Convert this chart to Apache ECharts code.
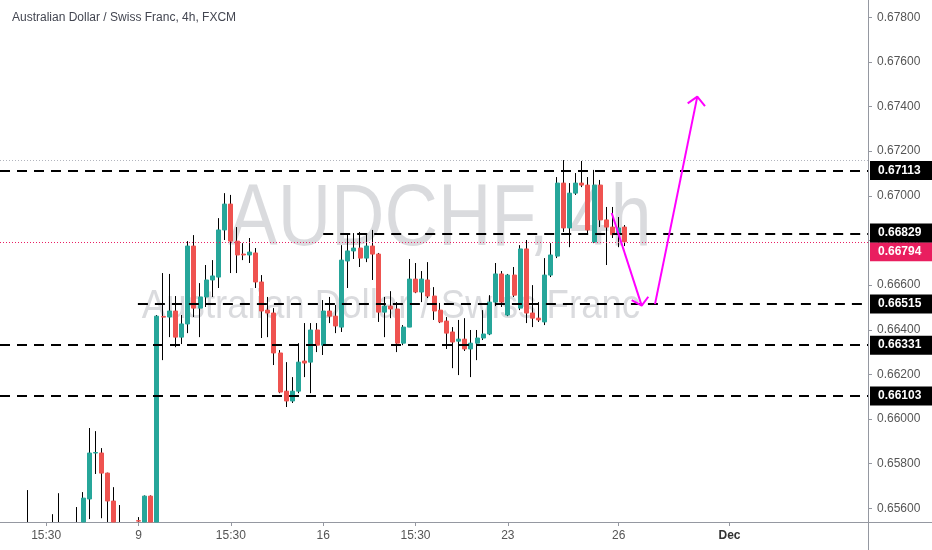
<!DOCTYPE html>
<html><head><meta charset="utf-8">
<script src="https://cdn.jsdelivr.net/npm/echarts@6/dist/echarts.min.js"></script>
<style>html,body{margin:0;padding:0;background:#fff}#c{width:932px;height:550px}</style>
</head><body><div id="c"></div>
<script>
// ---- data ----
const N = 141; // number of 4h slots on the category axis
const tickIndex = [7, 22, 37, 52, 67, 82, 100, 118];
const tickText = ['15:30', '9', '15:30', '16', '15:30', '23', '26', 'Dec'];

const open = [null,null,null,null,0.65520,null,null,null,0.65500,0.65510,null,null,0.65500,0.65520,0.65642,0.65848,0.65848,0.65758,0.65633,0.65520,null,null,0.65545,0.65520,0.65655,0.65520,0.66459,0.66457,0.66484,0.66367,0.66426,0.66775,0.66497,0.66547,0.66623,0.66636,0.66847,0.66963,0.66797,0.66739,0.66735,0.66744,0.66614,0.66488,0.66475,0.66296,0.66125,0.66081,0.66125,0.66260,0.66255,0.66399,0.66331,0.66484,0.66461,0.66412,0.66708,0.66753,0.66766,0.66721,0.66775,0.66739,0.66479,0.66506,0.66493,0.66340,0.66412,0.66627,0.66569,0.66623,0.66551,0.66488,0.66439,0.66390,0.66349,0.66358,0.66314,0.66340,0.66363,0.66381,0.66524,0.66650,0.66466,0.66645,0.66497,0.66762,0.66475,0.66452,0.66435,0.66645,0.66730,0.67057,0.66856,0.67012,0.67057,0.67048,0.66793,0.67048,0.66892,0.66860,0.66826,0.66860];
const close = [null,null,null,null,0.65510,null,null,null,0.65510,0.65500,null,null,0.65520,0.65646,0.65848,0.65850,0.65758,0.65633,0.65520,0.65510,null,null,0.65543,0.65655,0.65520,0.66461,0.66457,0.66484,0.66367,0.66426,0.66775,0.66497,0.66547,0.66623,0.66641,0.66847,0.66963,0.66797,0.66735,0.66735,0.66748,0.66614,0.66484,0.66475,0.66296,0.66121,0.66081,0.66125,0.66255,0.66251,0.66399,0.66331,0.66484,0.66461,0.66417,0.66712,0.66753,0.66766,0.66721,0.66775,0.66739,0.66479,0.66506,0.66493,0.66340,0.66412,0.66627,0.66569,0.66627,0.66551,0.66484,0.66435,0.66385,0.66345,0.66358,0.66314,0.66340,0.66363,0.66381,0.66524,0.66650,0.66524,0.66645,0.66555,0.66762,0.66475,0.66452,0.66444,0.66645,0.66735,0.67057,0.66856,0.67012,0.67057,0.67048,0.66847,0.67048,0.66892,0.66860,0.66826,0.66856,0.66794];
const low = [null,null,null,null,0.65490,null,null,null,0.65480,0.65470,null,null,0.65480,0.65490,0.65552,0.65754,0.65556,0.65520,0.65500,0.65490,null,null,0.65530,0.65500,0.65500,0.65500,0.66264,0.66367,0.66322,0.66336,0.66385,0.66457,0.66367,0.66502,0.66547,0.66587,0.66802,0.66654,0.66654,0.66712,0.66699,0.66587,0.66363,0.66367,0.66242,0.66116,0.66054,0.66072,0.66116,0.66188,0.66116,0.66300,0.66287,0.66430,0.66385,0.66390,0.66587,0.66717,0.66681,0.66703,0.66623,0.66435,0.66367,0.66452,0.66300,0.66331,0.66412,0.66564,0.66524,0.66542,0.66444,0.66430,0.66314,0.66228,0.66197,0.66305,0.66188,0.66264,0.66354,0.66376,0.66506,0.66502,0.66461,0.66547,0.66488,0.66430,0.66412,0.66435,0.66421,0.66636,0.66721,0.66838,0.66770,0.67004,0.67039,0.66833,0.66788,0.66860,0.66690,0.66811,0.66770,0.66775];
const high = [null,null,null,null,0.65682,null,null,null,0.65574,0.65668,null,null,0.65606,0.65673,0.65960,0.65946,0.65870,0.65760,0.65695,0.65615,null,null,0.65561,0.65658,0.65658,0.66466,0.66654,0.66650,0.66551,0.66466,0.66797,0.66824,0.66609,0.66690,0.66712,0.66900,0.67012,0.67004,0.66860,0.66788,0.66811,0.66766,0.66645,0.66547,0.66497,0.66309,0.66255,0.66188,0.66340,0.66430,0.66430,0.66430,0.66533,0.66547,0.66511,0.66779,0.66833,0.66833,0.66838,0.66833,0.66847,0.66744,0.66547,0.66573,0.66524,0.66421,0.66717,0.66699,0.66663,0.66703,0.66591,0.66520,0.66457,0.66412,0.66444,0.66452,0.66399,0.66399,0.66488,0.66555,0.66699,0.66663,0.66650,0.66681,0.66779,0.66802,0.66600,0.66524,0.66721,0.66788,0.67084,0.67160,0.67057,0.67102,0.67156,0.67084,0.67116,0.67071,0.66950,0.66950,0.66905,0.66869];

const levelValues = [0.67113, 0.66829, 0.66515, 0.66331, 0.66103];
const levelFrom = [-0.5, 52, 21.9, -0.5, -0.5];
const lastPrice = 0.66794;

const arrowDown = [[98.87, 0.66923], [103.74, 0.66508]];
const arrowDownHead = [[102.11, 0.66533], [103.74, 0.66508], [104.81, 0.66548]];
const arrowUp = [[105.9, 0.66515], [112.77, 0.67444]];
const arrowUpHead = [[111.21, 0.67414], [112.77, 0.67444], [114.02, 0.67402]];

const yMin = 0.65539, yMax = 0.67877;

// ---- build ----
const FONT = '"Liberation Sans", Arial, sans-serif';
const cats = Array.from({length: N}, (_, i) => String(i));
const labelFor = {};
tickIndex.forEach((ix, k) => { labelFor[ix] = tickText[k]; });

// clamp to the visible price window (candlestick does not clip partially visible items)
const cl = (v) => Math.min(yMax, Math.max(yMin, v));

const candleData = [], bodyData = [];
let maxHigh = -Infinity;
for (let i = 0; i < open.length; i++) {
  if (open[i] == null) continue;
  candleData.push([i, cl(open[i]), cl(close[i]), cl(low[i]), cl(high[i])]);
  if (Math.max(open[i], close[i]) > yMin) {
    const o = cl(open[i]), c = cl(close[i]);
    bodyData.push([i, o, c, Math.min(o, c), Math.max(o, c)]);
  }
  maxHigh = Math.max(maxHigh, high[i]);
}

const boxLabel = (v, bg, dy) => ({
  show: true, position: 'end', distance: 2, offset: [0, dy || 0],
  formatter: v.toFixed(5), color: '#fff', backgroundColor: bg,
  fontWeight: 'bold', fontSize: 12, fontFamily: FONT,
  padding: [3, 14, 3, 8], lineHeight: 13
});

const hLine = (v, from, lineStyle, label) => [
  {coord: [from, v], lineStyle: lineStyle, label: label},
  {coord: [N - 0.5, v]}
];

const markData = [];
markData.push(hLine(maxHigh, -0.5, {color: '#b2b5be', width: 1, type: [1, 2]}, {show: false}));
markData.push(hLine(lastPrice, -0.5, {color: '#e91e63', width: 1, type: [1, 2]}, boxLabel(lastPrice, '#e91e5f', 10)));
levelValues.forEach((v, k) => {
  markData.push(hLine(v, levelFrom[k], {color: '#000', width: 2, type: [10, 7]}, boxLabel(v, '#000', k === 1 ? -1 : 0)));
});

const arrowSeries = [arrowDown, arrowDownHead, arrowUp, arrowUpHead].map(pts => ({
  type: 'line', xAxisIndex: 1, yAxisIndex: 0, data: pts, symbol: 'none',
  lineStyle: {color: '#ff00ff', width: 2}, silent: true, z: 5
}));

const tickShow = (idx) => labelFor[idx] !== undefined;

const option = {
  animation: false,
  backgroundColor: '#fff',
  title: {
    text: 'Australian Dollar / Swiss Franc, 4h, FXCM', left: 7, top: 7,
    textStyle: {fontSize: 12, fontWeight: 'normal', color: '#434651', fontFamily: FONT}
  },
  grid: {left: 0, right: 64, top: 0, bottom: 28, containLabel: false},
  xAxis: [{
    type: 'category', data: cats, boundaryGap: true,
    axisLine: {show: true, onZero: false, lineStyle: {color: '#9598a1', width: 1}},
    axisTick: {show: true, interval: tickShow, alignWithLabel: true, length: 4, lineStyle: {color: '#9598a1'}},
    axisLabel: {
      interval: tickShow, margin: 8, color: '#555', fontSize: 12, fontFamily: FONT,
      formatter: (v, idx) => { const t = labelFor[Number(v)]; return t === 'Dec' ? '{b|Dec}' : (t || ''); },
      rich: {b: {fontWeight: 'bold', color: '#333', fontSize: 12, fontFamily: FONT}}
    },
    splitLine: {show: false}
  }, {
    type: 'value', min: -0.5, max: N - 0.5, show: false,
    axisLine: {show: false, onZero: false}
  }],
  yAxis: {
    type: 'value', position: 'right', min: yMin, max: yMax, scale: true,
    splitNumber: 11, minInterval: 0.002, maxInterval: 0.002,
    axisLine: {show: true, onZero: false, lineStyle: {color: '#9598a1', width: 1}},
    axisTick: {show: true, length: 4, lineStyle: {color: '#9598a1'}},
    axisLabel: {
      margin: 9, color: '#555', fontSize: 12, fontFamily: FONT,
      showMinLabel: false, showMaxLabel: false,
      formatter: (v) => Math.abs(v / 0.002 - Math.round(v / 0.002)) < 1e-6 ? v.toFixed(5) : ''
    },
    splitLine: {show: false}
  },
  graphic: [
    {type: 'text', x: 440, y: 221, scaleX: 0.85, z: -10, silent: true,
     style: {text: 'AUDCHF, 4h', font: '87px ' + FONT, fill: 'rgba(120,123,134,0.27)', textAlign: 'center', textVerticalAlign: 'middle'}},
    {type: 'text', x: 391, y: 307, scaleX: 0.915, z: -10, silent: true,
     style: {text: 'Australian Dollar / Swiss Franc', font: '40px ' + FONT, fill: 'rgba(120,123,134,0.27)', textAlign: 'center', textVerticalAlign: 'middle'}},
    {type: 'line', shape: {x1: 868, y1: 522.5, x2: 932, y2: 522.5}, style: {stroke: '#9598a1', lineWidth: 1}, silent: true},
    {type: 'line', shape: {x1: 868.5, y1: 522, x2: 868.5, y2: 550}, style: {stroke: '#9598a1', lineWidth: 1}, silent: true}
  ],
  series: [
    {
      type: 'line', xAxisIndex: 1, yAxisIndex: 0, data: [], silent: true,
      markLine: {symbol: 'none', silent: true, animation: false, data: markData}
    },
    {
      type: 'candlestick', name: 'wick', data: candleData, encode: {x: 0, y: [1, 2, 3, 4]},
      barWidth: 0.5, clip: true, silent: true,
      itemStyle: {color: '#000', color0: '#000', borderColor: '#000', borderColor0: '#000', borderColorDoji: '#000', borderWidth: 1}
    },
    {
      type: 'candlestick', name: 'body', data: bodyData, encode: {x: 0, y: [1, 2, 3, 4]},
      barWidth: 4.5, clip: true, silent: true,
      itemStyle: {color: '#26a69a', color0: '#ef5350', borderColor: '#26a69a', borderColor0: '#ef5350', borderWidth: 1}
    }
  ].concat(arrowSeries)
};

const chart = echarts.init(document.getElementById('c'));
chart.setOption(option);
</script>
</body></html>
